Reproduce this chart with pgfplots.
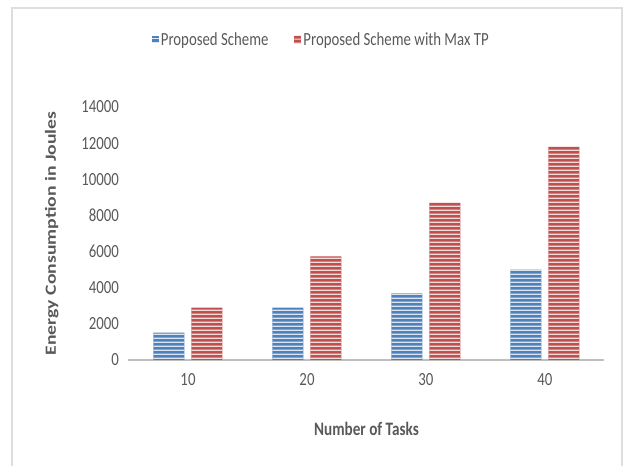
\documentclass[border=0pt]{standalone}
\usepackage{fontspec}
\setmainfont{Carlito}[FakeStretch=0.8]
\newfontfamily\rotfont{Carlito}[FakeStretch=1.27]
\usepackage{pgfplots}
\pgfplotsset{compat=1.18}
\usetikzlibrary{patterns}
\definecolor{cblue}{HTML}{4F81BD}
\definecolor{cred}{HTML}{C0504D}
\definecolor{txt}{HTML}{595959}
\definecolor{axl}{HTML}{BFBFBF}
\pgfdeclarepatternformonly{hstripes}{\pgfpoint{0pt}{0pt}}{\pgfpoint{300pt}{3.8pt}}{\pgfpoint{300pt}{3.8pt}}{%
  \pgfsetlinewidth{1.2pt}%
  \pgfpathmoveto{\pgfpoint{-1pt}{1.9pt}}%
  \pgfpathlineto{\pgfpoint{301pt}{1.9pt}}%
  \pgfusepath{stroke}}
\begin{document}
\begin{tikzpicture}[x=1pt,y=1pt]
\path[use as bounding box] (0,0) rectangle (625,466);
\draw[color=black!13, line width=1.5pt] (12,-3) rectangle (622,458);
\begin{axis}[
  at={(128.5pt,106pt)}, anchor=south west,
  scale only axis, width=476pt, height=253pt,
  xmin=-0.5, xmax=3.5, ymin=0, ymax=14000,
  xtick=data, xticklabels={10,20,30,40},
  ytick={0,2000,4000,6000,8000,10000,12000,14000},
  /pgf/number format/1000 sep={},
  /pgf/number format/assume math mode=true,
  scaled y ticks=false,
  axis y line*=left, y axis line style={draw=none},
  axis x line*=bottom, x axis line style={draw=axl, line width=1.5pt, -},
  major tick length=0pt,
  tick label style={font=\fontsize{18.5}{20}\selectfont, text=txt},
  yticklabel style={xshift=-6pt},
  xticklabel style={yshift=-10pt},
  xlabel={\bfseries Number of Tasks},
  ylabel={\rotfont\bfseries Energy Consumption in Joules},
  xlabel style={font=\fontsize{19}{20}\selectfont, text=txt, yshift=-30pt},
  ylabel style={font=\fontsize{15.5}{17}\selectfont, text=txt, yshift=16pt},
  ybar=7pt, bar width=31pt,
  legend columns=2,
  legend style={at={(0.405,1.265)}, anchor=center, draw=none, fill=none,
    font=\fontsize{18.5}{20}\selectfont, text=txt,
    /tikz/every even column/.append style={column sep=24pt}},
  legend image code/.code={\fill[#1] (0pt,-3.5pt) rectangle (7pt,4pt);},
]
\addplot[fill=cblue, draw=none, postaction={pattern=hstripes, pattern color=white!80!cblue}]
  coordinates {(0,1510) (1,2900) (2,3690) (3,5000)};
\addplot[fill=cred, draw=none, postaction={pattern=hstripes, pattern color=white!80!cred}]
  coordinates {(0,2900) (1,5740) (2,8690) (3,11800)};
\legend{Proposed Scheme, Proposed Scheme with Max TP}
\end{axis}
\end{tikzpicture}
\end{document}
